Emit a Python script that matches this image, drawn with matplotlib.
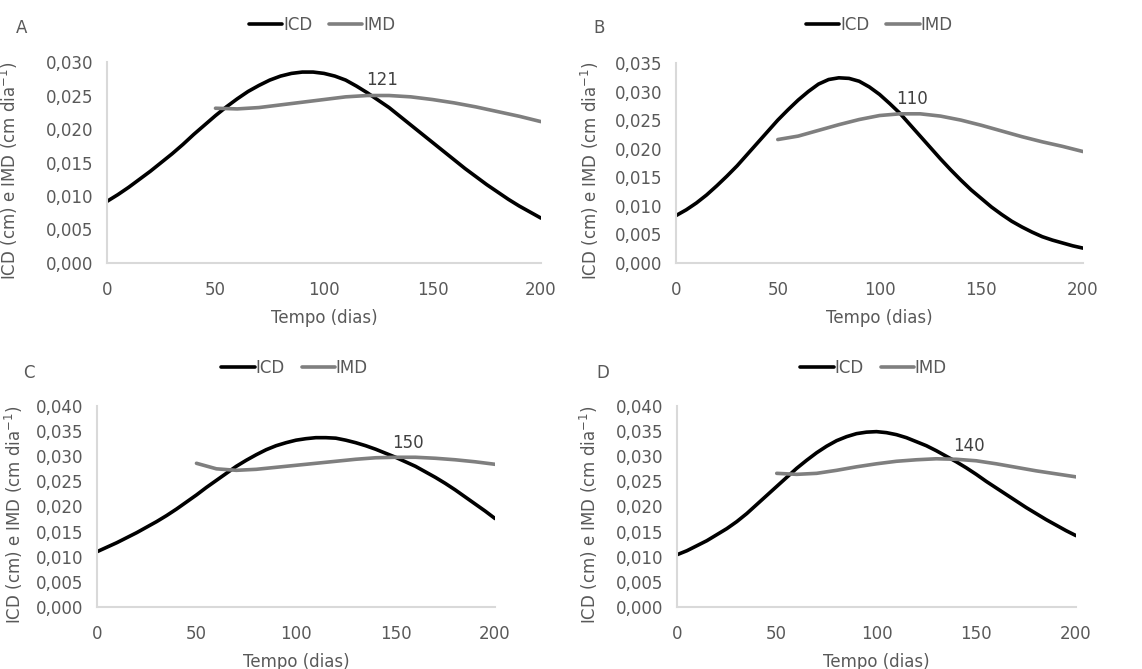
import numpy as np
import matplotlib
matplotlib.use('Agg')
import matplotlib.pyplot as plt

# Days
dias_icd = list(range(0, 201, 5))
dias_imd = [50, 60, 70, 80, 90, 100, 110, 120, 130, 140, 150,
            160, 170, 180, 190, 200]

# Panel A
icd_a = [0.0092, 0.0102, 0.0113, 0.0125, 0.0137, 0.0150, 0.0163, 0.0177, 0.0192, 0.0206,
         0.0220, 0.0233, 0.0245, 0.0256, 0.0265, 0.0273, 0.0279, 0.0283, 0.0285, 0.0285,
         0.0283, 0.0279, 0.0273, 0.0264, 0.0254, 0.0243, 0.0232, 0.0219, 0.0206, 0.0193,
         0.0180, 0.0167, 0.0154, 0.0141, 0.0129, 0.0117, 0.0106, 0.0095, 0.0085, 0.0076,
         0.0067]
imd_a = [0.0231, 0.0230, 0.0232, 0.0236, 0.0240, 0.0244, 0.0248, 0.0250, 0.0250, 0.0248, 0.0244,
         0.0239, 0.0233, 0.0226, 0.0219, 0.0211]

# Panel B
icd_b = [0.0083, 0.0093, 0.0105, 0.0119, 0.0135, 0.0152, 0.0170, 0.0190, 0.0210, 0.0230,
         0.0250, 0.0268, 0.0285, 0.0300, 0.0313, 0.0321, 0.0324, 0.0323, 0.0318, 0.0308,
         0.0295, 0.0279, 0.0262, 0.0242, 0.0222, 0.0202, 0.0182, 0.0163, 0.0145, 0.0128,
         0.0113, 0.0098, 0.0085, 0.0073, 0.0063, 0.0054, 0.0046, 0.0040, 0.0035, 0.0030,
         0.0026]
imd_b = [0.0216, 0.0222, 0.0232, 0.0242, 0.0251, 0.0258, 0.0261, 0.0261, 0.0257, 0.0250, 0.0241,
         0.0231, 0.0221, 0.0212, 0.0204, 0.0195]

# Panel C
icd_c = [0.0110, 0.0119, 0.0128, 0.0138, 0.0148, 0.0159, 0.0170, 0.0182, 0.0195, 0.0209,
         0.0223, 0.0238, 0.0252, 0.0266, 0.0280, 0.0292, 0.0303, 0.0313, 0.0321, 0.0327,
         0.0332, 0.0335, 0.0337, 0.0337, 0.0336, 0.0332, 0.0327, 0.0321, 0.0314, 0.0306,
         0.0298, 0.0289, 0.0280, 0.0269, 0.0258, 0.0246, 0.0233, 0.0219, 0.0205, 0.0191,
         0.0176]
imd_c = [0.0286, 0.0275, 0.0272, 0.0274, 0.0278, 0.0282, 0.0286, 0.0290, 0.0294, 0.0297, 0.0298,
         0.0298, 0.0296, 0.0293, 0.0289, 0.0284]

# Panel D
icd_d = [0.0104, 0.0112, 0.0122, 0.0132, 0.0144, 0.0156, 0.0170, 0.0186, 0.0204, 0.0222,
         0.0240, 0.0258, 0.0276, 0.0292, 0.0307, 0.0320, 0.0331, 0.0339, 0.0345, 0.0348,
         0.0349, 0.0347, 0.0343, 0.0337, 0.0329, 0.0321, 0.0311, 0.0300, 0.0289, 0.0277,
         0.0264, 0.0250, 0.0237, 0.0224, 0.0211, 0.0198, 0.0186, 0.0174, 0.0163, 0.0152,
         0.0142]
imd_d = [0.0266, 0.0264, 0.0266, 0.0272, 0.0279, 0.0285, 0.0290, 0.0293, 0.0295, 0.0294, 0.0291,
         0.0285, 0.0278, 0.0271, 0.0265, 0.0259]

letras = ['A', 'B', 'C', 'D']
cruzamento = [121, 110, 150, 140]
cruz_valor = [0.0251, 0.0261, 0.0298, 0.0292]
ymax = [0.030, 0.035, 0.040, 0.040]

plt.rcParams['font.family'] = ['DejaVu Sans']
txt = '#595959'

fig = plt.figure(figsize=(11.42, 6.69), dpi=100)

# axes rectangles in figure fractions
rects = [[0.0937, 0.6069, 0.3800, 0.3004],
         [0.5920, 0.6069, 0.3563, 0.2990],
         [0.0849, 0.0927, 0.3486, 0.3004],
         [0.5928, 0.0927, 0.3494, 0.3004]]
letra_pos = [(0.019, 0.958), (0.525, 0.958), (0.025, 0.442), (0.528, 0.442)]
leg_pos = [(0.282, 0.963), (0.770, 0.963), (0.258, 0.450), (0.765, 0.450)]
ylab_x = [-0.20, -0.184, -0.18, -0.193]

dados = [(icd_a, imd_a), (icd_b, imd_b), (icd_c, imd_c), (icd_d, imd_d)]

for i in range(4):
    ax = fig.add_axes(rects[i])
    icd, imd = dados[i]
    ax.plot(dias_icd, icd, color='black', lw=2.6, label='ICD', solid_capstyle='round')
    ax.plot(dias_imd, imd, color='#7f7f7f', lw=2.6, label='IMD', solid_capstyle='round')

    ax.set_xlim(0, 200)
    ax.set_ylim(0, ymax[i])
    ax.set_xticks([0, 50, 100, 150, 200])
    yt = np.arange(0, ymax[i] + 1e-9, 0.005)
    ax.set_yticks(yt)
    ax.set_yticklabels([('%.3f' % v).replace('.', ',') for v in yt])
    ax.tick_params(length=0, labelsize=12, labelcolor=txt)
    ax.tick_params(axis='x', pad=13)
    ax.tick_params(axis='y', pad=10)
    for s in ['top', 'right']:
        ax.spines[s].set_visible(False)
    for s in ['left', 'bottom']:
        ax.spines[s].set_color('#d9d9d9')
        ax.spines[s].set_linewidth(1.5)

    ax.set_xlabel('Tempo (dias)', fontsize=12, color=txt, labelpad=7)
    ax.set_ylabel('ICD (cm) e IMD (cm dia$^{-1}$)', fontsize=12, color=txt)
    ax.yaxis.set_label_coords(ylab_x[i], 0.46)

    ax.annotate(str(cruzamento[i]), (cruzamento[i], cruz_valor[i]),
                xytext=(9, 7), textcoords='offset points', ha='center',
                fontsize=12, color='#404040')

    fig.text(letra_pos[i][0], letra_pos[i][1], letras[i], fontsize=12, color=txt,
             ha='center', va='center')
    ax.legend(loc='center', bbox_to_anchor=leg_pos[i], bbox_transform=fig.transFigure,
              ncol=2, frameon=False, fontsize=12, handlelength=2.0, handletextpad=0.05,
              columnspacing=1.0, labelcolor=txt)

fig.savefig('out.png', dpi=100)
